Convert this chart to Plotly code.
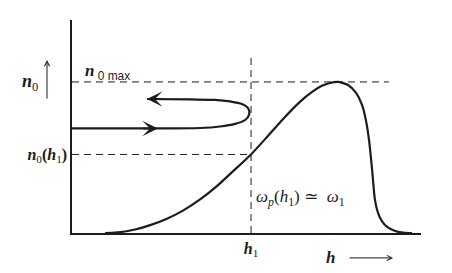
import plotly.graph_objects as go

# ---- data (h in arbitrary units 0..10, n0 normalised so n0max = 1) ----
profile_h = [0.95, 1.23, 1.52, 1.81, 2.24, 2.72, 3.18, 3.67, 4.16, 4.61, 5.13, 5.59,
             6.05, 6.53, 6.88, 7.16, 7.39, 7.62, 7.91, 8.14, 8.31, 8.42, 8.51, 8.60,
             8.68, 8.77, 8.88, 9.03, 9.26, 9.54, 9.74]
profile_n = [0.0, 0.003, 0.010, 0.023, 0.052, 0.095, 0.148, 0.222, 0.312, 0.408, 0.52, 0.636,
             0.755, 0.868, 0.934, 0.974, 0.993, 1.0, 0.980, 0.927, 0.848, 0.748, 0.616, 0.417,
             0.219, 0.132, 0.079, 0.040, 0.013, 0.001, 0.0]

ray_h = [0.0, 2.24, 3.67, 4.24, 4.67, 4.96, 5.08, 5.04, 4.87, 4.53, 4.10, 3.38, 2.15]
ray_n = [0.692, 0.692, 0.695, 0.705, 0.722, 0.748, 0.788, 0.828, 0.854, 0.871, 0.881, 0.884, 0.887]

h1 = 5.13
n0_h1 = 0.52
n0max = 1.0
n0max_line_end = 9.08
h1_line_top = 1.18

ink = "#1c1c1c"
serif = "Liberation Serif, DejaVu Serif, serif"

fig = go.Figure()

# dashed reference lines
dash = dict(color=ink, width=1, dash="7px,5px")
fig.add_trace(go.Scatter(x=[0, n0max_line_end], y=[n0max, n0max], mode="lines", line=dash, hoverinfo="skip"))
fig.add_trace(go.Scatter(x=[0, h1], y=[n0_h1, n0_h1], mode="lines", line=dash, hoverinfo="skip"))
fig.add_trace(go.Scatter(x=[h1, h1], y=[0, h1_line_top], mode="lines", line=dash, hoverinfo="skip"))

# density profile
fig.add_trace(go.Scatter(x=profile_h, y=profile_n, mode="lines",
                         line=dict(color=ink, width=2.2, shape="spline", smoothing=0.6),
                         hoverinfo="skip"))
# ray path
fig.add_trace(go.Scatter(x=ray_h, y=ray_n, mode="lines",
                         line=dict(color=ink, width=2.2, shape="spline", smoothing=0.9),
                         hoverinfo="skip"))

ann = []
# arrowheads on the ray
ann.append(dict(x=2.46, y=ray_n[0], ax=2.0, ay=ray_n[0], xref="x", yref="y", axref="x", ayref="y",
                text="", showarrow=True, arrowhead=3, arrowsize=1.3, arrowwidth=2, arrowcolor=ink))
ann.append(dict(x=ray_h[-1], y=ray_n[-1], ax=2.6, ay=ray_n[-1], xref="x", yref="y", axref="x", ayref="y",
                text="", showarrow=True, arrowhead=3, arrowsize=1.3, arrowwidth=2, arrowcolor=ink))

# labels
ann.append(dict(x=0.32, y=1.066, xref="x", yref="y", xanchor="left", yanchor="middle",
                text="<b><i>n</i></b><span style='font-family:Liberation Sans'><sub> 0 max</sub></span>",
                showarrow=False, font=dict(family=serif, size=17, color=ink)))
ann.append(dict(x=5.22, y=0.232, xref="x", yref="y", xanchor="left", yanchor="middle",
                text="<i>ω</i><sub><i>p</i></sub>(<i>h</i><sub>1</sub>) ≃  <i>ω</i><sub>1</sub>",
                showarrow=False, font=dict(family=serif, size=17, color=ink)))
ann.append(dict(x=-0.12, y=0.705, xref="paper", yref="paper", xanchor="center", yanchor="middle",
                text="<b><i>n</i></b><sub>0</sub>", showarrow=False,
                font=dict(family=serif, size=18, color=ink)))
ann.append(dict(x=-0.0716, y=0.812, xref="paper", yref="paper", ax=0, ay=40, text="",
                showarrow=True, arrowhead=5, arrowsize=1, arrowwidth=1, arrowcolor=ink))
ann.append(dict(x=0.742, y=-0.117, xref="paper", yref="paper", xanchor="center", yanchor="middle",
                text="<b><i>h</i></b>", showarrow=False, font=dict(family=serif, size=17, color=ink)))
ann.append(dict(x=0.920, y=-0.117, xref="paper", yref="paper", ax=-45, ay=0, text="",
                showarrow=True, arrowhead=5, arrowsize=1, arrowwidth=1, arrowcolor=ink))

fig.update_layout(
    width=452, height=273,
    margin=dict(l=72, r=31, t=20, b=40),
    paper_bgcolor="white", plot_bgcolor="white",
    showlegend=False,
    annotations=ann,
    xaxis=dict(range=[0, 10], showgrid=False, zeroline=False, showline=True,
               linecolor=ink, linewidth=1.5, ticks="",
               tickvals=[h1], ticktext=["<b><i>h</i></b><sub>1</sub>"],
               tickfont=dict(family=serif, size=16, color=ink), fixedrange=True),
    yaxis=dict(range=[0, 1.41], showgrid=False, zeroline=False, showline=True,
               linecolor=ink, linewidth=1.5, ticks="",
               tickvals=[n0_h1], ticktext=["<b><i>n</i></b><sub>0</sub><b>(<i>h</i></b><sub>1</sub><b>)</b>"],
               tickfont=dict(family=serif, size=16, color=ink), fixedrange=True),
)

fig.write_html("out.html", config={"displayModeBar": False})
